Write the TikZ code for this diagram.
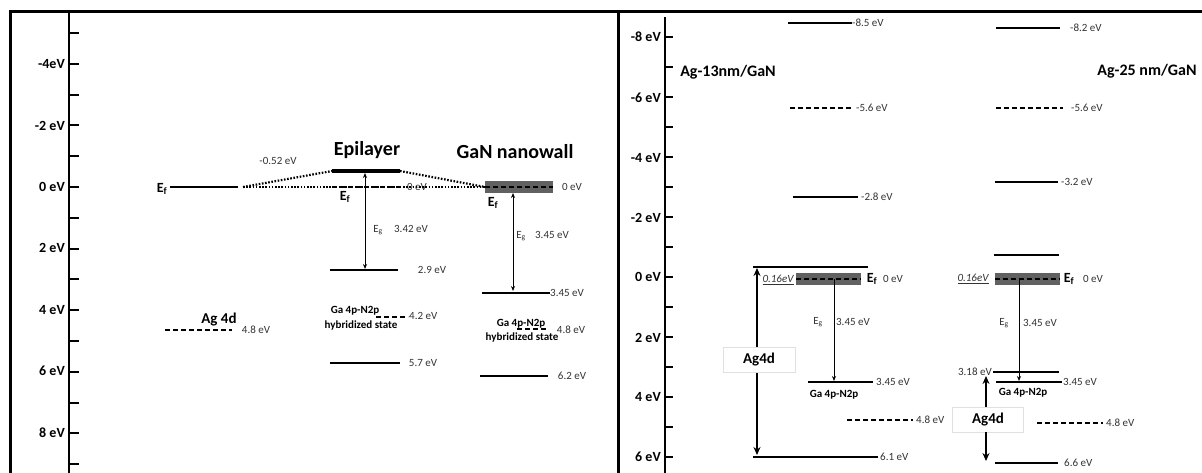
\documentclass[tikz,border=0pt]{standalone}
\usepackage{fontspec}
\setmainfont{Carlito}
\usetikzlibrary{arrows.meta}
\begin{document}
\begin{tikzpicture}[x=1pt,y=-1pt,
  frame/.style={line width=3pt,black},
  axisline/.style={line width=2.5pt,black},
  tick/.style={line width=2pt,black},
  axlab/.style={anchor=east,inner sep=0pt,font=\fontsize{14}{16}\selectfont\bfseries},
  lvl/.style={line width=2.4pt,black},
  dlvl/.style={line width=2.2pt,black,dash pattern=on 5pt off 3pt},
  dotline/.style={line width=2.2pt,black,dash pattern=on 1.6pt off 1.6pt},
  val/.style={inner sep=0pt,font=\fontsize{11}{13}\selectfont,text=black!80},
  valw/.style={val,anchor=west},
  title/.style={inner sep=0pt,font=\fontsize{20}{22}\selectfont\bfseries},
  ptitle/.style={inner sep=0pt,font=\fontsize{16}{18}\selectfont\bfseries},
  ef/.style={inner sep=0pt,font=\fontsize{14}{16}\selectfont\bfseries},
  eg/.style={inner sep=0pt,font=\fontsize{11}{13}\selectfont,text=black!80},
  state/.style={inner sep=0pt,font=\fontsize{11}{12}\selectfont\bfseries,align=center},
  agd/.style={inner sep=0pt,font=\fontsize{15}{17}\selectfont\bfseries},
  agbox/.style={draw=black!12,fill=white,line width=0.6pt},
  bar/.style={fill=black!62,draw=none},
  gap/.style={line width=0.8pt,black,{Stealth[length=5pt,width=4pt]}-{Stealth[length=5pt,width=4pt]}},
  gapd/.style={line width=0.8pt,black,-{Stealth[length=5pt,width=4pt]}},
  thickarr/.style={line width=2.2pt,black,-{Stealth[length=8pt,width=7pt]}},
  off/.style={inner sep=0pt,font=\fontsize{11}{13}\selectfont\itshape,text=black!80}
]
\useasboundingbox (0,0) rectangle (1202,473);
\fill[white] (0,0) rectangle (1202,473);

% frame
\draw[frame] (10,473) -- (10,12) -- (1202,12);
\draw[frame] (618,12) -- (618,473);

% ---------- left axis ----------
\draw[axisline] (69,12) -- (69,473);
\foreach \e in {-5,...,9}{ \draw[tick] (69,187+30.8*\e) -- (79,187+30.8*\e); }
\node[axlab] (la1) at (65,64) {-4eV};
\node[axlab] (la2) at (65,126) {-2 eV};
\node[axlab] (la3) at (65,187) {0 eV};
\node[axlab] (la4) at (65,248) {2 eV};
\node[axlab] (la5) at (65,310) {4 eV};
\node[axlab] (la6) at (65,371) {6 eV};
\node[axlab] (la7) at (65,433) {8 eV};

% ---------- right axis ----------
\draw[axisline] (665,17) -- (665,473);
\foreach \e in {-8,...,6}{ \draw[tick] (665,277+30*\e) -- (673,277+30*\e); }
\node[axlab] (ra1) at (661,37) {-8 eV};
\node[axlab] (ra2) at (661,98) {-6 eV};
\node[axlab] (ra3) at (661,158) {-4 eV};
\node[axlab] (ra4) at (661,218) {-2 eV};
\node[axlab] (ra5) at (661,277) {0 eV};
\node[axlab] (ra6) at (661,338) {2 eV};
\node[axlab] (ra7) at (661,397) {4 eV};
\node[axlab] (ra8) at (661,457) {6 eV};

% ---------- left panel ----------
\node[title] (tepi) at (367,150) {Epilayer};
\node[title] (tnw) at (515,152) {GaN nanowall};

% metal Ef
\node[ef] (efm) at (162,189) {E\textsubscript{f}};
\draw[lvl] (170,187) -- (238,187);
\coordinate (dstart) at (243,187);

% epilayer
\node[val] (v052) at (278,161) {-0.52 eV};
\node[val] (v0epi) at (417,187) {0 eV};
\coordinate (epiL) at (332,171);
\coordinate (epiR) at (400,171);
\draw[line width=4.5pt] (epiL) -- (epiR);
\draw[dlvl] (332,187) -- (400,187);
\node[ef] (efepi) at (345,197) {E\textsubscript{f}};
\coordinate (epiT) at (365,173);
\coordinate (epiB) at (365,269);
\draw[gap] (epiT) -- (epiB);
\node[eg] (egepi) at (378,230) {E\textsubscript{g}};
\node[val] (v342) at (411,229) {3.42 eV};
\draw[lvl] (330,270) -- (398,270);
\node[val] (v29) at (432,270) {2.9 eV};
\node[state] (gaepi) at (355,311) {Ga 4p-N2p};
\node[state] (hyepi) at (361,326) {hybridized state};
\draw[dlvl] (376,317) -- (408,317);
\node[valw] (v42) at (409,316) {4.2 eV};
\draw[lvl] (330,363) -- (400,363);
\node[val] (v57) at (423,363) {5.7 eV};

% nanowall
\coordinate (nwL) at (485,187);
\fill[bar] (485,181) rectangle (553,193);
\draw[dlvl] (485,187) -- (553,187);
\node[val] (v0nw) at (572,187) {0 eV};
\node[ef] (efnw) at (493,203) {E\textsubscript{f}};
\coordinate (nwT) at (513,193);
\coordinate (nwB) at (513,291);
\draw[gap] (nwT) -- (nwB);
\node[eg] (egnw) at (521,236) {E\textsubscript{g}};
\node[val] (v345nw) at (552,235) {3.45 eV};
\draw[lvl] (482,293) -- (550,293);
\node[valw] (v345b) at (550,293) {3.45 eV};
\node[state] (ganw) at (521,324) {Ga 4p-N2p};
\node[state] (hynw) at (522,338) {hybridized state};
\draw[dlvl] (517,329) -- (548,329);
\node[val] (v48nw) at (571,330) {4.8 eV};
\draw[lvl] (480,376) -- (548,376);
\node[val] (v62) at (572,376) {6.2 eV};

% dotted alignment lines
\draw[dotline] (dstart) -- (epiL);
\draw[dotline] (dstart) -- (nwL);
\draw[dotline] (epiR) -- (nwL);

% Ag 4d
\node[agd] (ag4d) at (219,320) {Ag 4d};
\draw[dlvl] (165,330) -- (232,330);
\node[val] (v48ag) at (256,330) {4.8 eV};

% ---------- right panel: Ag-13nm ----------
\node[ptitle] (t13) at (728,72) {Ag-13nm/GaN};
\draw[lvl] (788,23) -- (852,23);
\node[valw] (a85) at (852,23) {-8.5 eV};
\draw[dlvl] (790,108) -- (853,108);
\node[valw] (a56) at (856,108) {-5.6 eV};
\draw[lvl] (793,197) -- (858,197);
\node[valw] (a28) at (861,197) {-2.8 eV};
\draw[lvl] (753,267) -- (868,267);
\coordinate (ag13T) at (757,268);
\coordinate (ag13B) at (757,455);
\draw[line width=2.2pt,{Stealth[length=8pt,width=7pt]}-{Stealth[length=8pt,width=7pt]}] (ag13T) -- (ag13B);
\draw[agbox] (723,347) rectangle (795,372);
\node[agd] (ag13) at (759,360) {Ag4d};
\draw[lvl] (753,457) -- (878,457);
\node[valw] (a61) at (880,457) {6.1 eV};
\node[off] (o13) at (778,280) {\underline{0.16eV}};
\fill[bar] (796,273) rectangle (861,285);
\draw[dlvl] (796,279) -- (861,279);
\node[ef] (ef13) at (872,279) {E\textsubscript{f}};
\node[val] (z13) at (893,279) {0 eV};
\coordinate (g13T) at (834,279);
\coordinate (g13B) at (834,381);
\draw[gapd] (g13T) -- (g13B);
\node[eg] (eg13) at (818,322) {E\textsubscript{g}};
\node[val] (s13) at (853,322) {3.45 eV};
\draw[lvl] (808,382) -- (873,382);
\node[valw] (a345) at (876,382) {3.45 eV};
\node[state] (ga13) at (834,395) {Ga 4p-N2p};
\draw[dlvl] (847,420) -- (913,420);
\node[valw] (a48) at (916,420) {4.8 eV};

% ---------- right panel: Ag-25nm ----------
\node[ptitle] (t25) at (1147,71) {Ag-25 nm/GaN};
\draw[lvl] (996,28) -- (1060,28);
\node[valw] (b82) at (1070,28) {-8.2 eV};
\draw[dlvl] (996,108) -- (1063,108);
\node[valw] (b56) at (1071,108) {-5.6 eV};
\draw[lvl] (995,182) -- (1058,182);
\node[valw] (b32) at (1061,182) {-3.2 eV};
\draw[lvl] (994,255) -- (1059,255);
\node[off] (o25) at (973,279) {\underline{0.16eV}};
\fill[bar] (995,273) rectangle (1060,285);
\draw[dlvl] (995,279) -- (1060,279);
\node[ef] (ef25) at (1069,279) {E\textsubscript{f}};
\node[val] (z25) at (1093,279) {0 eV};
\coordinate (g25T) at (1019,279);
\coordinate (g25B) at (1019,381);
\draw[gapd] (g25T) -- (g25B);
\node[eg] (eg25) at (1004,323) {E\textsubscript{g}};
\node[val] (s25) at (1040,323) {3.45 eV};
\node[val,anchor=east] (b318) at (992,372) {3.18 eV};
\draw[lvl] (993,372) -- (1059,372);
\draw[lvl] (996,382) -- (1062,382);
\node[valw] (b345) at (1063,382) {3.45 eV};
\node[state] (ga25) at (1023,393) {Ga 4p-N2p};
\draw[agbox] (952,407) rectangle (1023,432);
\node[agd] (ag25) at (988,420) {Ag4d};
\coordinate (ag25T) at (986,407);
\coordinate (ag25U) at (986,376);
\coordinate (ag25B) at (986,432);
\coordinate (ag25D) at (986,461);
\draw[thickarr] (ag25T) -- (ag25U);
\draw[thickarr] (ag25B) -- (ag25D);
\draw[dlvl] (1037,423) -- (1103,423);
\node[valw] (b48) at (1106,423) {4.8 eV};
\draw[lvl] (995,463) -- (1058,463);
\node[valw] (b66) at (1064,463) {6.6 eV};
\end{tikzpicture}
\end{document}
